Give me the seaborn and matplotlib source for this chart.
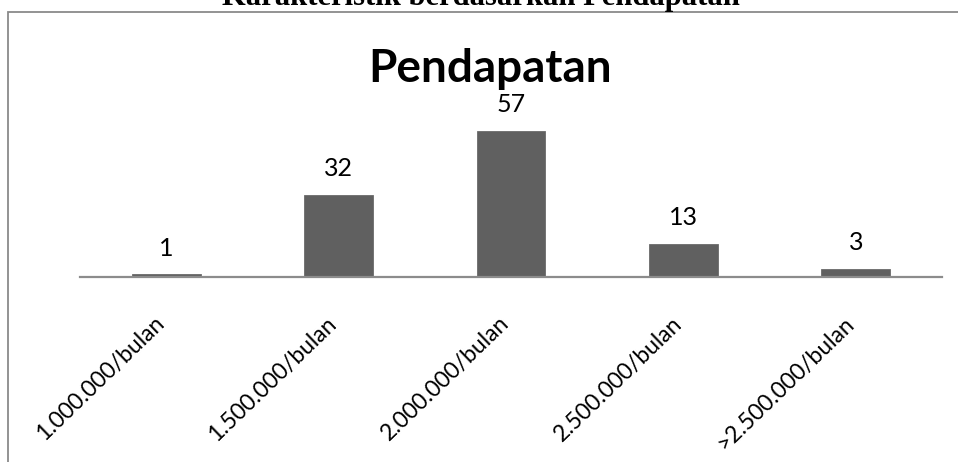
import matplotlib
matplotlib.use("Agg")
import matplotlib.pyplot as plt
import matplotlib.patches as mpatches
import matplotlib.transforms as mtransforms
import seaborn as sns
import pandas as pd

# Income categories and respondent counts
categories = ["1.000.000/bulan", "1.500.000/bulan", "2.000.000/bulan",
              "2.500.000/bulan", ">2.500.000/bulan"]
counts = [1, 32, 57, 13, 3]

chart_title = "Pendapatan"
doc_title = "Karakteristik berdasarkan Pendapatan"

df = pd.DataFrame({"kategori": categories, "jumlah": counts})

sns.set_theme(style="white")
plt.rcParams["font.family"] = ["Lato", "DejaVu Sans"]

W, H = 958, 462
fig = plt.figure(figsize=(W / 100, H / 100), dpi=100)
fig.patch.set_facecolor("white")

# chart frame (extends past the right and bottom edges)
frame = mpatches.Rectangle((8 / W, -0.1), 1.2, 1 - 12 / H + 0.1,
                           transform=fig.transFigure, fill=False,
                           edgecolor="#8a8a8a", linewidth=1.3, zorder=0)
fig.add_artist(frame)

ax = fig.add_axes([80 / W, 1 - 277 / H, (942 - 80) / W, (277 - 97.3) / H])
ax.set_facecolor("none")

sns.barplot(data=df, x="kategori", y="jumlah", color="#606060",
            saturation=1, width=0.4, ax=ax, edgecolor="#6a6a6a", linewidth=0.6)

ax.set_ylim(0, 70)
ax.set_xlim(-0.5, len(categories) - 0.5)
ax.set_xlabel("")
ax.set_ylabel("")
ax.set_yticks([])
for side in ["top", "right", "left"]:
    ax.spines[side].set_visible(False)
ax.spines["bottom"].set_color("#8c8c8c")
ax.spines["bottom"].set_linewidth(1.6)

ax.tick_params(axis="x", length=0, pad=31)
ax.set_xticks(range(len(categories)))
ax.set_xticklabels(categories, rotation=44, ha="right", va="center",
                   rotation_mode="anchor", fontsize=16.5, color="#000000")
# nudge the slanted labels slightly left of the bar centres
shift = mtransforms.ScaledTranslation(-5 / 100, 0, fig.dpi_scale_trans)
for lbl in ax.get_xticklabels():
    lbl.set_transform(lbl.get_transform() + shift)

# value labels above each bar
for i, v in enumerate(counts):
    ax.annotate(str(v), (i, v), xytext=(0, 19), textcoords="offset points",
                ha="center", va="center", fontsize=18, color="#000000")

fig.text(490 / W, 1 - 82 / H, chart_title, ha="center", va="baseline",
         fontsize=33, fontweight="bold", color="#000000")

fig.text(481 / W, 1 - 5 / H, doc_title, ha="center", va="baseline",
         fontsize=22, fontweight="bold", color="#000000",
         family=["Liberation Serif", "DejaVu Serif"])

fig.savefig("out.png", dpi=100, facecolor="white")
